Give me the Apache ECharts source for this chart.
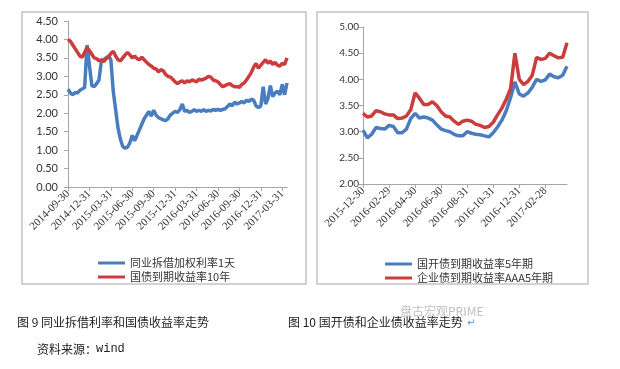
<!DOCTYPE html>
<html><head><meta charset="utf-8">
<script src="https://cdn.jsdelivr.net/npm/echarts@6/dist/echarts.min.js"></script>
<style>html,body{margin:0;padding:0;background:#fff}#c{width:620px;height:369px}</style>
</head><body><div id="c"></div>
<script>
// ---- Figure 9 data ----
var datesL = ['2014-09-30',
'2014-10-10','2014-10-20','2014-10-31','2014-11-10','2014-11-20','2014-11-30','2014-12-10','2014-12-20','2014-12-31',
'2015-01-10','2015-01-20','2015-01-31','2015-02-10','2015-02-20','2015-02-28','2015-03-10','2015-03-20','2015-03-31',
'2015-04-10','2015-04-20','2015-04-30','2015-05-10','2015-05-20','2015-05-31','2015-06-10','2015-06-20','2015-06-30',
'2015-07-10','2015-07-20','2015-07-31','2015-08-10','2015-08-20','2015-08-31','2015-09-10','2015-09-20','2015-09-30',
'2015-10-10','2015-10-20','2015-10-31','2015-11-10','2015-11-20','2015-11-30','2015-12-10','2015-12-20','2015-12-31',
'2016-01-10','2016-01-20','2016-01-31','2016-02-10','2016-02-20','2016-02-29','2016-03-10','2016-03-20','2016-03-31',
'2016-04-10','2016-04-20','2016-04-30','2016-05-10','2016-05-20','2016-05-31','2016-06-10','2016-06-20','2016-06-30',
'2016-07-10','2016-07-20','2016-07-31','2016-08-10','2016-08-20','2016-08-31','2016-09-10','2016-09-20','2016-09-30',
'2016-10-10','2016-10-20','2016-10-31','2016-11-10','2016-11-20','2016-11-30','2016-12-10','2016-12-20','2016-12-31',
'2017-01-10','2017-01-20','2017-01-31','2017-02-10','2017-02-20','2017-02-28','2017-03-10','2017-03-20','2017-03-31',
'2017-04-10','2017-04-20'];
var interbank1D = [2.65,
2.55,2.50,2.56,2.55,2.62,2.66,2.70,3.85,3.30,
2.75,2.72,2.80,2.90,3.40,3.45,3.50,3.55,3.45,
2.60,2.10,1.60,1.30,1.10,1.05,1.08,1.20,1.40,
1.25,1.40,1.55,1.70,1.85,1.95,2.05,1.92,2.08,
1.95,1.88,1.85,1.82,1.80,1.85,1.95,2.00,2.05,
2.02,2.10,2.25,2.05,2.08,2.02,2.05,2.10,2.05,
2.08,2.05,2.10,2.05,2.08,2.06,2.10,2.08,2.10,
2.08,2.10,2.12,2.18,2.25,2.20,2.30,2.25,2.28,
2.32,2.28,2.35,2.32,2.38,2.35,2.20,2.15,2.20,
2.72,2.25,2.40,2.75,2.45,2.55,2.60,2.50,2.78,
2.50,2.82];
var gov10Y = [4.00,
3.95,3.85,3.75,3.65,3.55,3.52,3.65,3.78,3.70,
3.60,3.50,3.48,3.42,3.45,3.40,3.48,3.52,3.62,
3.68,3.55,3.45,3.42,3.50,3.58,3.65,3.58,3.50,
3.55,3.48,3.45,3.52,3.45,3.38,3.32,3.28,3.22,
3.20,3.12,3.18,3.15,3.05,3.00,2.98,2.92,2.85,
2.80,2.85,2.88,2.82,2.88,2.85,2.90,2.88,2.85,
2.92,2.90,2.92,2.95,3.00,2.98,2.90,2.88,2.85,
2.78,2.72,2.75,2.78,2.80,2.75,2.72,2.72,2.70,
2.78,2.82,2.90,3.00,3.10,3.25,3.35,3.22,3.30,
3.38,3.45,3.35,3.42,3.32,3.38,3.30,3.28,3.35,
3.32,3.50];
var yTicksL = ['0.00','0.50','1.00','1.50','2.00','2.50','3.00','3.50','4.00','4.50'];

// ---- Figure 10 data ----
var datesR = ['2015-12-30',
'2016-01-10','2016-01-20','2016-01-31','2016-02-10','2016-02-20','2016-02-29',
'2016-03-10','2016-03-20','2016-03-31','2016-04-10','2016-04-20','2016-04-30',
'2016-05-10','2016-05-20','2016-05-31','2016-06-10','2016-06-20','2016-06-30',
'2016-07-10','2016-07-20','2016-07-31','2016-08-10','2016-08-20','2016-08-31',
'2016-09-10','2016-09-20','2016-09-30','2016-10-10','2016-10-20','2016-10-31',
'2016-11-10','2016-11-20','2016-11-30','2016-12-10','2016-12-20','2016-12-31',
'2017-01-10','2017-01-20','2017-01-31','2017-02-10','2017-02-20','2017-02-28',
'2017-03-10','2017-03-20','2017-03-31','2017-04-10','2017-04-20'];
var cdb5Y = [3.03,
2.88,2.95,3.08,3.06,3.05,3.12,
3.10,2.98,2.98,3.05,3.25,3.35,
3.26,3.28,3.26,3.22,3.13,3.05,
3.02,3.00,2.95,2.92,2.92,3.00,
2.97,2.95,2.94,2.92,2.90,2.98,
3.09,3.22,3.40,3.65,3.95,3.72,
3.68,3.74,3.85,4.00,3.96,3.99,
4.10,4.05,4.03,4.08,4.25];
var corpAAA5Y = [3.35,
3.28,3.30,3.40,3.38,3.34,3.32,
3.32,3.25,3.26,3.30,3.42,3.74,
3.64,3.52,3.52,3.57,3.50,3.38,
3.30,3.28,3.20,3.14,3.20,3.22,
3.20,3.14,3.12,3.08,3.10,3.18,
3.32,3.45,3.62,3.82,4.50,4.00,
3.90,3.96,4.08,4.42,4.38,4.40,
4.50,4.45,4.41,4.42,4.70];
var yTicksR = ['2.00','2.50','3.00','3.50','4.00','4.50','5.00'];

var nameL1 = '同业拆借加权利率1天', nameL2 = '国债到期收益率10年';
var nameR1 = '国开债到期收益率5年期', nameR2 = '企业债到期收益率AAA5年期';

var BLUE = '#4a7dc0', RED = '#cc3c3c';
var CJK = '"Noto Sans CJK SC", sans-serif';
var NUM = 'Lato, "Liberation Sans", sans-serif';
var SERIF = '"Liberation Serif", serif';
var axisColor = '#a6a6a6';

function xAxisCfg(gi, data, every) {
  return {
    type: 'category', gridIndex: gi, data: data, boundaryGap: false,
    axisLine: {lineStyle: {color: axisColor, width: 1}},
    axisTick: {show: true, interval: every - 1, length: 4, lineStyle: {color: axisColor}},
    axisLabel: {interval: every - 1, rotate: 45, fontSize: 11, fontFamily: SERIF, color: '#333', margin: 5},
    splitLine: {show: false}
  };
}
function yAxisCfg(gi, labels, fs, margin) {
  return {
    type: 'value', gridIndex: gi,
    min: parseFloat(labels[0]), max: parseFloat(labels[labels.length - 1]), interval: 0.5,
    axisLine: {show: true, lineStyle: {color: axisColor, width: 1}},
    axisTick: {show: true, length: 4, lineStyle: {color: axisColor}},
    axisLabel: {fontSize: fs, fontFamily: NUM, color: '#333', margin: margin,
      formatter: function (v) { return v.toFixed(2); }},
    splitLine: {show: false}
  };
}
function lineSeries(name, data, color, xi, yi, z) {
  return {type: 'line', name: name, data: data, xAxisIndex: xi, yAxisIndex: yi,
    showSymbol: false, symbol: 'none', z: z,
    lineStyle: {color: color, width: 3.5}, itemStyle: {color: color}};
}
function legendCfg(names, left, top) {
  return {orient: 'vertical', left: left, top: top, data: names, icon: 'rect',
    itemWidth: 27, itemHeight: 3, itemGap: 2, selectedMode: false,
    textStyle: {fontFamily: CJK, fontSize: 11, color: '#333', lineHeight: 12}};
}

var chart = echarts.init(document.getElementById('c'), null, {renderer: 'canvas'});
chart.setOption({
  animation: false,
  backgroundColor: '#fff',
  grid: [
    {left: 68, top: 21, width: 219, height: 166},
    {left: 363, top: 27, width: 204, height: 157}
  ],
  xAxis: [xAxisCfg(0, datesL, 9), xAxisCfg(1, datesR, 6)],
  yAxis: [yAxisCfg(0, yTicksL, 11, 10), yAxisCfg(1, yTicksR, 10, 4)],
  legend: [legendCfg([nameL1, nameL2], 93, 252), legendCfg([nameR1, nameR2], 380, 253)],
  series: [
    lineSeries(nameL1, interbank1D, BLUE, 0, 0, 2),
    lineSeries(nameL2, gov10Y, RED, 0, 0, 3),
    lineSeries(nameR1, cdb5Y, BLUE, 1, 1, 2),
    lineSeries(nameR2, corpAAA5Y, RED, 1, 1, 3)
  ],
  graphic: [
    {type: 'rect', shape: {x: 22, y: 12, width: 284, height: 272}, style: {fill: 'none', stroke: '#c4c4c4', lineWidth: 1.5}, silent: true},
    {type: 'rect', shape: {x: 317, y: 12, width: 271, height: 272}, style: {fill: 'none', stroke: '#c4c4c4', lineWidth: 1.5}, silent: true},
    {type: 'text', left: 17, top: 316, style: {text: '图 9 同业拆借利率和国债收益率走势', font: '12px "Noto Sans CJK SC"', fill: '#222'}},
    {type: 'text', left: 288, top: 316, style: {text: '图 10 国开债和企业债收益率走势', font: '12px "Noto Sans CJK SC"', fill: '#222'}},
    {type: 'text', left: 467, top: 318, style: {text: '↵', font: '10px "DejaVu Sans"', fill: '#5b8fd6'}},
    {type: 'text', left: 400, top: 305, style: {text: '盘古宏观PRIME', font: '12px "Noto Sans CJK SC"', fill: 'rgba(170,170,170,0.75)'}},
    {type: 'text', left: 37, top: 343, style: {text: '资料来源：', font: '12px "Noto Sans CJK SC"', fill: '#222'}},
    {type: 'text', left: 96, top: 343, style: {text: 'wind', font: '12px "Liberation Mono"', fill: '#222'}}
  ]
});
</script></body></html>
